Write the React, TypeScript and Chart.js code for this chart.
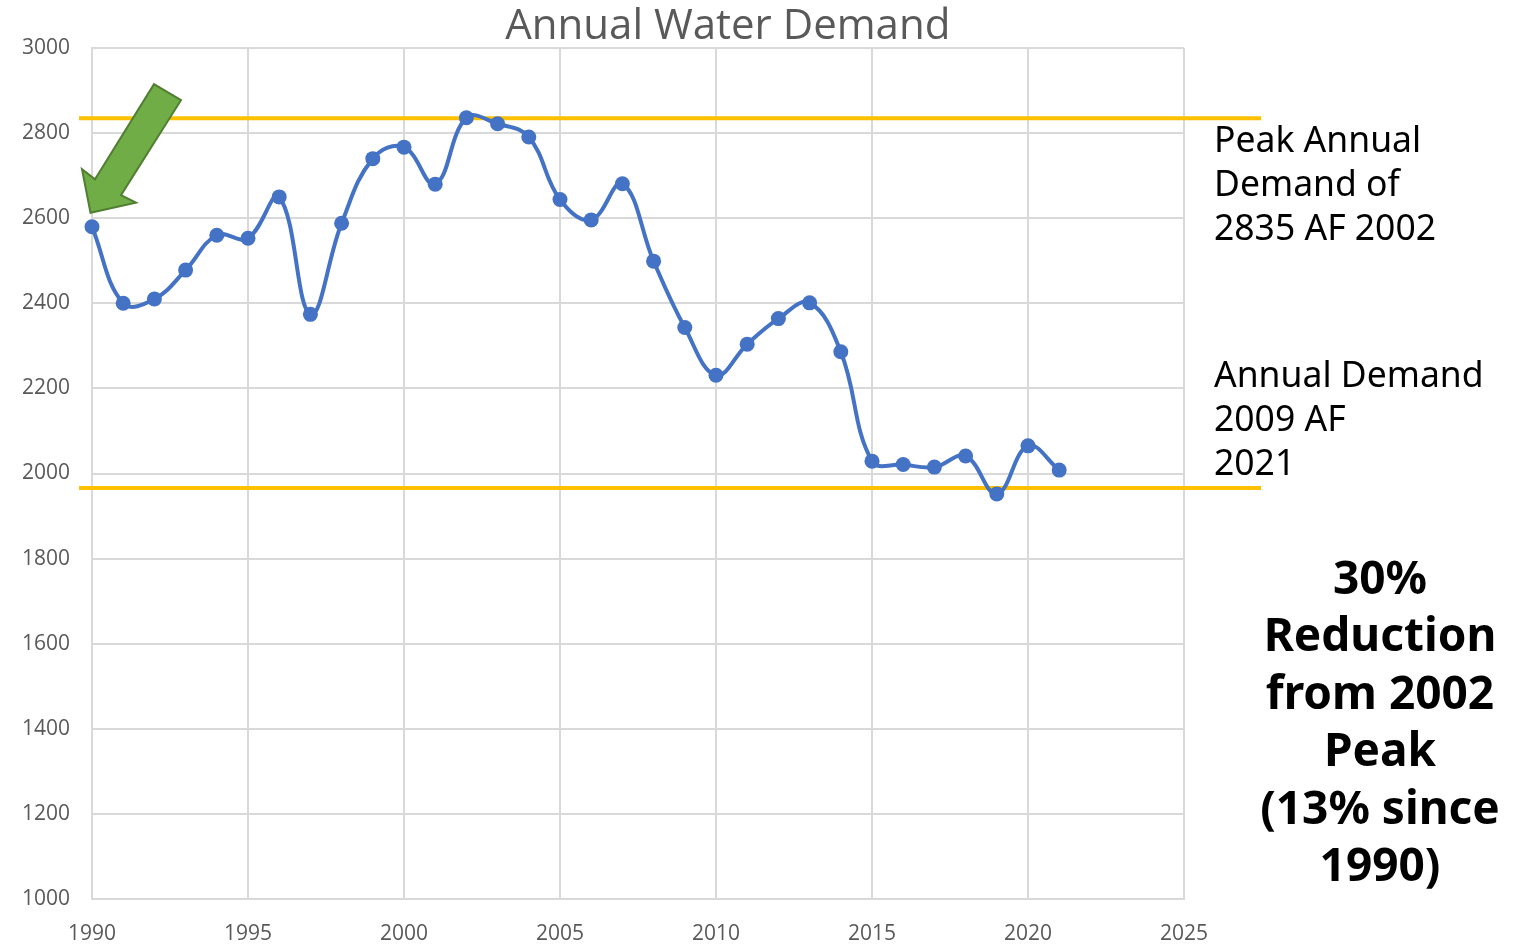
import React, { useEffect, useRef } from "react";
import { Chart, registerables } from "chart.js";

Chart.register(...registerables);

const years = [
  1990, 1991, 1992, 1993, 1994, 1995, 1996, 1997, 1998, 1999, 2000,
  2001, 2002, 2003, 2004, 2005, 2006, 2007, 2008, 2009, 2010, 2011,
  2012, 2013, 2014, 2015, 2016, 2017, 2018, 2019, 2020, 2021,
];
const demand = [
  2580, 2400, 2410, 2478, 2560, 2553, 2650, 2374, 2588, 2740, 2767,
  2680, 2836, 2822, 2791, 2644, 2596, 2681, 2499, 2343, 2231, 2304,
  2364, 2401, 2286, 2029, 2021, 2015, 2041, 1952, 2065, 2008,
];

const xMin = 1990;
const xMax = 2025;
const xStep = 5;
const yMin = 1000;
const yMax = 3000;
const yStep = 200;

const peakRefLine = 2835;
const currentRefLine = 1966;

const titleText = "Annual Water Demand";
const peakNote = ["Peak Annual", "Demand of", "2835 AF 2002"];
const currentNote = ["Annual Demand", "2009 AF", "2021"];
const reductionNote = ["30%", "Reduction", "from 2002", "Peak", "(13% since", "1990)"];

const annotationPlugin = {
  id: "annotations",
  beforeDatasetsDraw(chart: any) {
    const { ctx, chartArea, scales } = chart;
    const y = scales.y;
    ctx.save();
    ctx.strokeStyle = "#FFC000";
    ctx.lineWidth = 4;
    [peakRefLine, currentRefLine].forEach((v) => {
      const py = y.getPixelForValue(v);
      ctx.beginPath();
      ctx.moveTo(chartArea.left - 13, py);
      ctx.lineTo(chartArea.right + 77, py);
      ctx.stroke();
    });
    ctx.restore();
  },
  afterDatasetsDraw(chart: any) {
    const { ctx, scales } = chart;
    const tipX = scales.x.getPixelForValue(years[0]) - 1.5;
    const tipY = scales.y.getPixelForValue(demand[0]) - 14;
    // arrow shape relative to tip
    const shape = [
      [0, 0],
      [-8.5, -43.5],
      [4.5, -33.5],
      [63.5, -128.5],
      [90.5, -112.5],
      [30.5, -17.5],
      [45.5, -10],
    ];
    ctx.save();
    ctx.beginPath();
    shape.forEach(([dx, dy], i) => {
      if (i === 0) ctx.moveTo(tipX + dx, tipY + dy);
      else ctx.lineTo(tipX + dx, tipY + dy);
    });
    ctx.closePath();
    ctx.fillStyle = "#70AD47";
    ctx.fill();
    ctx.strokeStyle = "#507E32";
    ctx.lineWidth = 2;
    ctx.lineJoin = "miter";
    ctx.stroke();
    ctx.restore();
  },
  afterDraw(chart: any) {
    const { ctx, chartArea } = chart;
    ctx.save();
    // title
    ctx.fillStyle = "#595959";
    ctx.font = "42px 'Open Sans'";
    ctx.textAlign = "center";
    ctx.textBaseline = "alphabetic";
    ctx.fillText(titleText, chart.width * 0.476, 39);

    // right notes
    ctx.fillStyle = "#000000";
    ctx.textAlign = "left";
    ctx.font = "35.5px 'Noto Sans'";
    const noteX = chartArea.right + 30;
    peakNote.forEach((t, i) => ctx.fillText(t, noteX, 152 + i * 44));
    currentNote.forEach((t, i) => ctx.fillText(t, noteX, 387 + i * 44));

    ctx.textAlign = "center";
    ctx.font = "bold 46px 'Noto Sans'";
    reductionNote.forEach((t, i) => ctx.fillText(t, 1380, 594 + i * 57.4));
    ctx.restore();
  },
};

export default function App() {
  const canvasRef = useRef<HTMLCanvasElement | null>(null);

  useEffect(() => {
    document.body.style.margin = "0";
    const canvas = canvasRef.current;
    if (!canvas) return;
    const chart = new Chart(canvas, {
      type: "line",
      data: {
        datasets: [
          {
            label: "Annual Water Demand",
            data: years.map((yr, i) => ({ x: yr, y: demand[i] })),
            borderColor: "#4472C4",
            backgroundColor: "#4472C4",
            borderWidth: 4,
            pointRadius: 7.5,
            pointBorderWidth: 0,
            pointBackgroundColor: "#4472C4",
            tension: 0.4,
            fill: false,
            clip: false,
          } as any,
        ],
      },
      options: {
        animation: false,
        responsive: false,
        maintainAspectRatio: false,
        layout: { padding: { left: 0, top: 48, right: 345, bottom: 0 } },
        plugins: {
          legend: { display: false },
          title: { display: false },
          tooltip: { enabled: false },
        },
        scales: {
          x: {
            type: "linear",
            min: xMin,
            max: xMax,
            afterFit: (s: any) => {
              s.height = 45;
            },
            ticks: {
              stepSize: xStep,
              padding: 22,
              color: "#595959",
              font: { family: "'Open Sans'", size: 21 },
              callback: (v: any) => String(v),
              maxRotation: 0,
            },
            grid: { color: "#d9d9d9", lineWidth: 2, drawTicks: false },
            border: { color: "#d9d9d9", width: 2 },
          },
          y: {
            min: yMin,
            max: yMax,
            afterFit: (s: any) => {
              s.width = 92;
            },
            ticks: {
              stepSize: yStep,
              padding: 22,
              color: "#595959",
              font: { family: "'Open Sans'", size: 21 },
              callback: (v: any) => String(v),
            },
            grid: { color: "#d9d9d9", lineWidth: 2, drawTicks: false },
            border: { color: "#d9d9d9", width: 2 },
          },
        },
      },
      plugins: [annotationPlugin],
    });
    return () => chart.destroy();
  }, []);

  return (
    <div style={{ position: "absolute", left: 0, top: 0, width: 1529, height: 944 }}>
      <canvas ref={canvasRef} width={1529} height={944} style={{ display: "block" }} />
    </div>
  );
}
